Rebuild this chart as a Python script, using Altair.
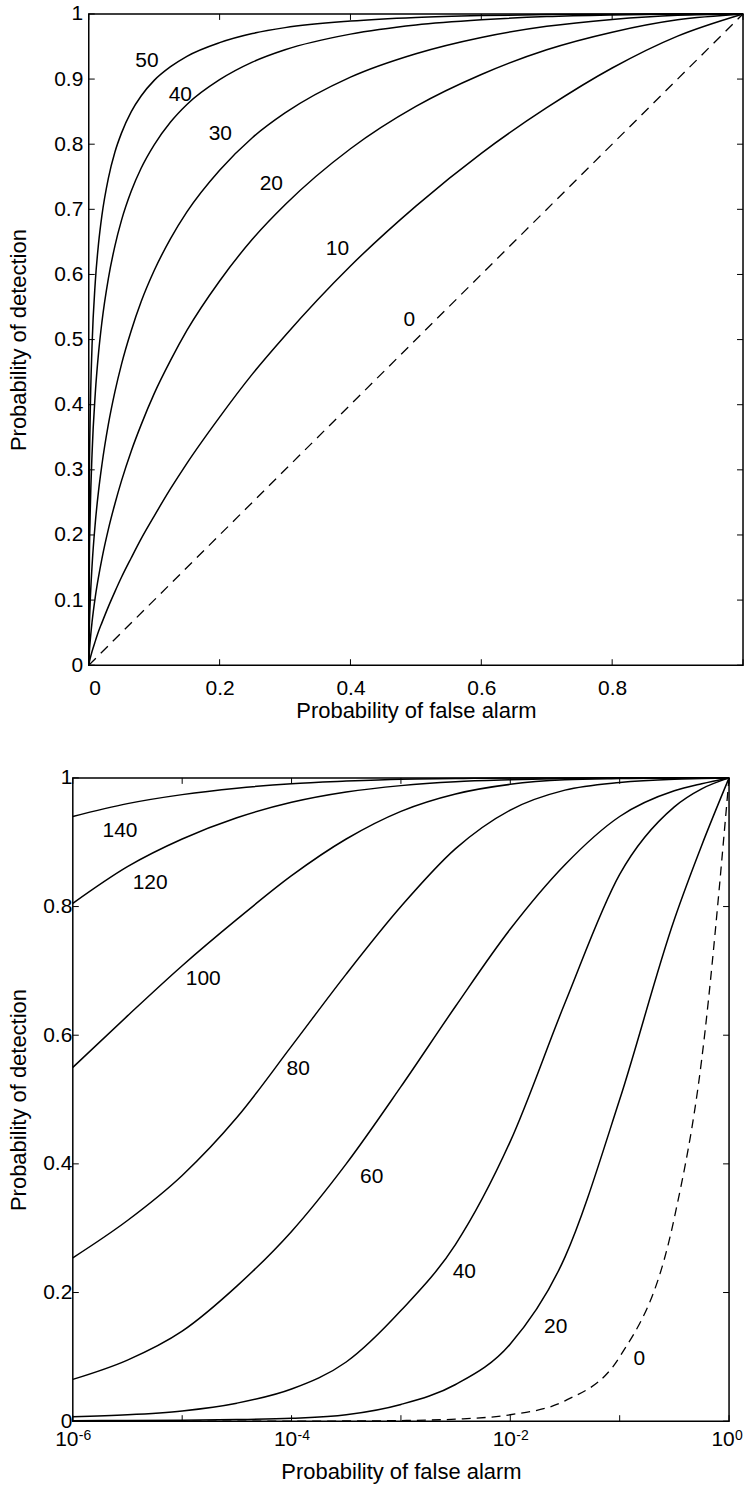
import altair as alt
import pandas as pd

# ---------------- top panel (linear false-alarm axis) ----------------
top_x = [0, 0.001, 0.002, 0.005, 0.01, 0.015, 0.02, 0.03, 0.04, 0.05, 0.065, 0.08, 0.1,
         0.125, 0.15, 0.2, 0.25, 0.3, 0.4, 0.5, 0.6, 0.7, 0.8, 0.9, 1.0]
top_50 = [0, 0.295, 0.371, 0.49, 0.589, 0.648, 0.69, 0.748, 0.788, 0.817, 0.85, 0.874, 0.898,
          0.919, 0.935, 0.956, 0.970, 0.979, 0.989, 0.9946, 0.9975, 0.999, 0.9997, 1.0, 1.0]
top_40 = [0, 0.166, 0.224, 0.324, 0.418, 0.48, 0.526, 0.594, 0.644, 0.683, 0.728, 0.763, 0.799,
          0.834, 0.861, 0.899, 0.926, 0.945, 0.969, 0.983, 0.991, 0.996, 0.9985, 0.9998, 1.0]
top_30 = [0, 0.062, 0.092, 0.152, 0.219, 0.268, 0.307, 0.37, 0.42, 0.462, 0.514, 0.558, 0.606,
          0.655, 0.696, 0.76, 0.81, 0.848, 0.903, 0.939, 0.964, 0.981, 0.9916, 0.998, 1.0]
top_20 = [0, 0.022, 0.035, 0.066, 0.105, 0.136, 0.163, 0.209, 0.248, 0.283, 0.329, 0.369, 0.417,
          0.468, 0.514, 0.59, 0.654, 0.707, 0.793, 0.858, 0.907, 0.945, 0.972, 0.991, 1.0]
top_10 = [0, 0.0054, 0.0097, 0.021, 0.037, 0.052, 0.065, 0.09, 0.113, 0.135, 0.165, 0.194, 0.229,
          0.271, 0.31, 0.381, 0.447, 0.506, 0.613, 0.705, 0.786, 0.856, 0.917, 0.966, 1.0]
top_0_x = [0, 1]
top_0_y = [0, 1]

top_lab_text = ["50", "40", "30", "20", "10", "0"]
top_lab_x = [0.089, 0.14, 0.201, 0.279, 0.38, 0.49]
top_lab_y = [0.927, 0.875, 0.816, 0.739, 0.639, 0.53]

top_xticks = [0, 0.2, 0.4, 0.6, 0.8, 1.0]
top_xlabels = [0, 0.2, 0.4, 0.6, 0.8]
top_yticks = [0, 0.1, 0.2, 0.3, 0.4, 0.5, 0.6, 0.7, 0.8, 0.9, 1.0]

# ---------------- bottom panel (log false-alarm axis) ----------------
bot_x = [1e-6, 3.16e-6, 1e-5, 3.16e-5, 1e-4, 3.16e-4, 1e-3, 3.16e-3, 1e-2, 3.16e-2,
         0.1, 0.316, 0.562, 1.0]
bot_140 = [0.94, 0.96, 0.974, 0.984, 0.991, 0.995, 0.998, 0.999, 1.0, 1.0, 1.0, 1.0, 1.0, 1.0]
bot_120 = [0.805, 0.862, 0.905, 0.938, 0.962, 0.978, 0.988, 0.994, 0.997, 0.999, 1.0, 1.0, 1.0, 1.0]
bot_100 = [0.55, 0.63, 0.708, 0.78, 0.848, 0.905, 0.948, 0.975, 0.99, 0.997, 0.999, 1.0, 1.0, 1.0]
bot_80 = [0.254, 0.312, 0.382, 0.472, 0.583, 0.695, 0.8, 0.89, 0.95, 0.981, 0.993, 0.998, 0.999, 1.0]
bot_60 = [0.065, 0.095, 0.14, 0.21, 0.295, 0.40, 0.52, 0.645, 0.765, 0.865, 0.94, 0.98, 0.991, 1.0]
bot_40 = [0.007, 0.01, 0.016, 0.028, 0.05, 0.092, 0.172, 0.275, 0.435, 0.65, 0.85, 0.955, 0.983, 1.0]
bot_20 = [0.0008, 0.001, 0.0015, 0.0025, 0.0045, 0.01, 0.026, 0.057, 0.12, 0.255, 0.50, 0.78, 0.895, 1.0]
bot_0 = [1e-6, 3.16e-6, 1e-5, 3.16e-5, 1e-4, 3.16e-4, 1e-3, 3.16e-3, 1e-2, 3.16e-2,
         0.1, 0.316, 0.562, 1.0]

bot_lab_text = ["140", "120", "100", "80", "60", "40", "20", "0"]
bot_lab_x = [2.7e-6, 5.1e-6, 1.56e-5, 1.15e-4, 5.4e-4, 3.8e-3, 2.6e-2, 0.151]
bot_lab_y = [0.918, 0.837, 0.688, 0.548, 0.38, 0.232, 0.146, 0.096]

bot_xticks = [1e-6, 1e-5, 1e-4, 1e-3, 1e-2, 1e-1, 1.0]
bot_xlabels = [1e-6, 1e-4, 1e-2, 1.0]
bot_xexp = ["-6", "-4", "-2", "0"]
bot_yticks = [0, 0.2, 0.4, 0.6, 0.8, 1.0]

FONT = "Liberation Sans"
TW, TH = 656, 653
BW, BH = 658, 645
TICK = 6
LBL = 21      # tick label size
TTL = 22      # axis title size
CRV = 21      # curve label size
LW = 1.5


def long_df(xs, series):
    rows = []
    for name, ys in series.items():
        for i, (x, y) in enumerate(zip(xs, ys)):
            rows.append({"x": x, "y": y, "curve": name, "i": i})
    return pd.DataFrame(rows)


def tick_layers(xs_vals, ys_vals, xscale, yscale, W, H):
    xt = pd.DataFrame({"v": xs_vals})
    yt = pd.DataFrame({"v": ys_vals})
    base_x = alt.Chart(xt).mark_rule(color="black", strokeWidth=1)
    base_y = alt.Chart(yt).mark_rule(color="black", strokeWidth=1)
    xb = base_x.encode(x=alt.X("v:Q", scale=xscale), y=alt.value(H), y2=alt.value(H - TICK))
    xtp = base_x.encode(x=alt.X("v:Q", scale=xscale), y=alt.value(0), y2=alt.value(TICK))
    yl = base_y.encode(y=alt.Y("v:Q", scale=yscale), x=alt.value(0), x2=alt.value(TICK))
    yr = base_y.encode(y=alt.Y("v:Q", scale=yscale), x=alt.value(W), x2=alt.value(W - TICK))
    return [xb, xtp, yl, yr]


def spacer():
    return alt.Chart(pd.DataFrame({"v": [0]})).mark_rule(strokeWidth=0, opacity=0).encode(
        x=alt.value(0), y=alt.value(0), y2=alt.value(1)
    ).properties(width=1, height=1, view=alt.ViewBackground(stroke="transparent"))


# ---------- top chart ----------
tx_scale = alt.Scale(domain=[0, 1], nice=False, zero=False)
ty_scale = alt.Scale(domain=[0, 1], nice=False, zero=False)

top_df = long_df(top_x, {"50": top_50, "40": top_40, "30": top_30, "20": top_20, "10": top_10})
top_dash = pd.DataFrame({"x": top_0_x, "y": top_0_y})
top_labels = pd.DataFrame({"x": top_lab_x, "y": top_lab_y, "t": top_lab_text})

top_lines = alt.Chart(top_df).mark_line(color="black", strokeWidth=LW, interpolate="monotone").encode(
    x=alt.X("x:Q", scale=tx_scale,
            axis=alt.Axis(values=top_xlabels, format=".1~f", title="Probability of false alarm",
                          labelFontSize=LBL, labelPadding=12, titleFontSize=TTL, titleFontWeight="normal",
                          titleY=35, ticks=False, domain=False, grid=False, labelColor="black",
                          titleColor="black")),
    y=alt.Y("y:Q", scale=ty_scale,
            axis=alt.Axis(values=top_yticks, format=".1~f", title="Probability of detection",
                          labelFontSize=LBL, labelPadding=6, titleFontSize=TTL, titleFontWeight="normal",
                          titleX=-58, ticks=False, domain=False, grid=False, labelColor="black",
                          titleColor="black")),
    detail="curve:N",
    order="i:Q",
)
top_dashed = alt.Chart(top_dash).mark_line(color="black", strokeWidth=1.3, strokeDash=[10, 7]).encode(
    x=alt.X("x:Q", scale=tx_scale), y=alt.Y("y:Q", scale=ty_scale))
top_text = alt.Chart(top_labels).mark_text(fontSize=CRV, font=FONT, color="black").encode(
    x=alt.X("x:Q", scale=tx_scale), y=alt.Y("y:Q", scale=ty_scale), text="t:N")

top_chart = alt.layer(top_lines, top_dashed, top_text,
                      *tick_layers(top_xticks, top_yticks, tx_scale, ty_scale, TW, TH)).properties(
    width=TW, height=TH)

# ---------- bottom chart ----------
bx_scale = alt.Scale(type="log", domain=[1e-6, 1], nice=False)
by_scale = alt.Scale(domain=[0, 1], nice=False, zero=False)

bot_df = long_df(bot_x, {"140": bot_140, "120": bot_120, "100": bot_100, "80": bot_80,
                         "60": bot_60, "40": bot_40, "20": bot_20})
bot_dash = pd.DataFrame({"x": bot_x, "y": bot_0})
bot_labels = pd.DataFrame({"x": bot_lab_x, "y": bot_lab_y, "t": bot_lab_text})
bot_xl = pd.DataFrame({"v": bot_xlabels, "e": bot_xexp, "b": ["10"] * len(bot_xlabels)})

bot_lines = alt.Chart(bot_df).mark_line(color="black", strokeWidth=LW, interpolate="monotone").encode(
    x=alt.X("x:Q", scale=bx_scale,
            axis=alt.Axis(values=bot_xticks, labels=False, title="Probability of false alarm",
                          titleFontSize=TTL, titleFontWeight="normal", titleY=40,
                          ticks=False, domain=False, grid=False, titleColor="black")),
    y=alt.Y("y:Q", scale=by_scale,
            axis=alt.Axis(values=bot_yticks, format=".1~f", title="Probability of detection",
                          labelFontSize=LBL, labelPadding=1, titleFontSize=TTL, titleFontWeight="normal",
                          titleX=-42, ticks=False, domain=False, grid=False, labelColor="black",
                          titleColor="black")),
    detail="curve:N",
    order="i:Q",
)
bot_dashed = alt.Chart(bot_dash).mark_line(color="black", strokeWidth=1.3, strokeDash=[9, 6],
                                           interpolate="monotone").encode(
    x=alt.X("x:Q", scale=bx_scale), y=alt.Y("y:Q", scale=by_scale))
bot_text = alt.Chart(bot_labels).mark_text(fontSize=CRV, font=FONT, color="black").encode(
    x=alt.X("x:Q", scale=bx_scale), y=alt.Y("y:Q", scale=by_scale), text="t:N")
bot_base10 = alt.Chart(bot_xl).mark_text(fontSize=21, font=FONT, color="black", baseline="alphabetic",
                                         align="center", dx=-6).encode(
    x=alt.X("v:Q", scale=bx_scale), y=alt.value(BH + 25), text="b:N")
bot_exp = alt.Chart(bot_xl).mark_text(fontSize=14, font=FONT, color="black", baseline="alphabetic",
                                      align="left", dx=6).encode(
    x=alt.X("v:Q", scale=bx_scale), y=alt.value(BH + 19), text="e:N")

bot_chart = alt.layer(bot_lines, bot_dashed, bot_text, bot_base10, bot_exp,
                      *tick_layers(bot_xticks, bot_yticks, bx_scale, by_scale, BW, BH)).properties(
    width=BW, height=BH)

# a 1px invisible first column in each row lets the two panels keep their own left offsets
row_top = alt.hconcat(spacer(), top_chart, spacing=0)
row_bot = alt.hconcat(spacer(), bot_chart, spacing=0)

chart = alt.vconcat(row_top, row_bot, spacing=44).properties(
    padding={"left": 4, "top": 0, "right": 0, "bottom": 0}
).configure(font=FONT).configure_view(stroke="black", strokeWidth=1.5).configure_axis(
    labelFont=FONT, titleFont=FONT)

chart.save("out.html", embed_options={"renderer": "svg", "actions": False})
